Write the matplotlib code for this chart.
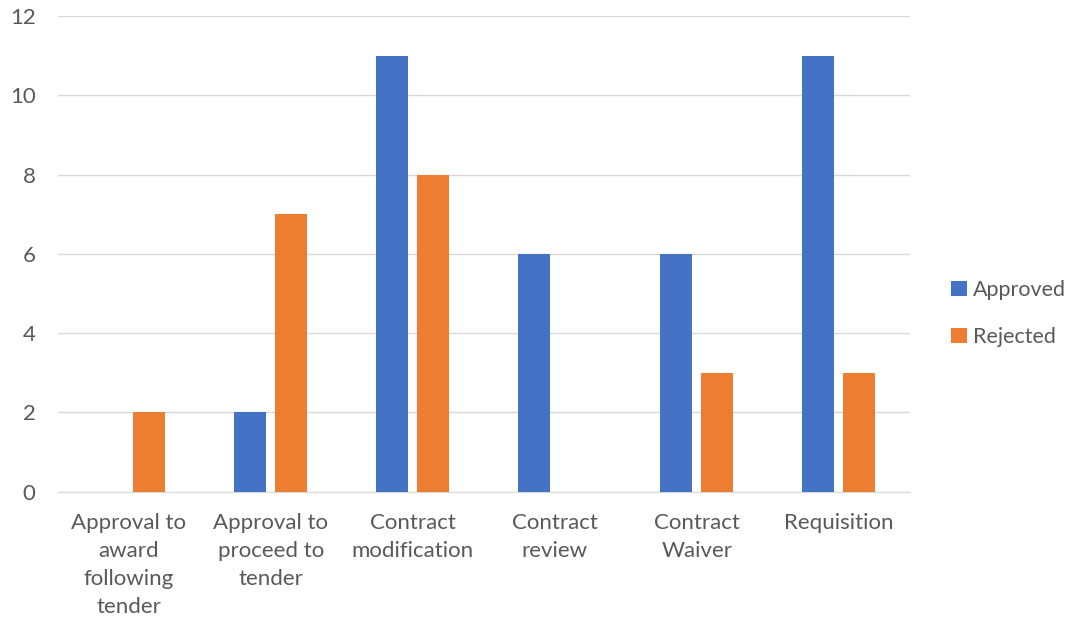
import matplotlib
matplotlib.use("Agg")
import matplotlib.pyplot as plt
import numpy as np

categories = ["Approval to\naward\nfollowing\ntender", "Approval to\nproceed to\ntender",
              "Contract\nmodification", "Contract\nreview", "Contract\nWaiver", "Requisition"]
approved = [0, 2, 11, 6, 6, 11]
rejected = [2, 7, 8, 0, 3, 3]
yticks = [0, 2, 4, 6, 8, 10, 12]

plt.rcParams['font.family'] = ['Lato', 'DejaVu Sans']
fig = plt.figure(figsize=(10.69, 6.17), dpi=100)
ax = fig.add_axes([0.054, 0.203, 0.797, 0.771])

x = np.arange(len(categories))
w = 0.225
ax.bar(x - 0.145, approved, width=w, color="#4472C4", label="Approved", zorder=3)
ax.bar(x + 0.145, rejected, width=w, color="#ED7D31", label="Rejected", zorder=3)

ax.set_xlim(-0.5, len(categories) - 0.5)
ax.set_ylim(0, 12)
ax.set_yticks(yticks)
ax.yaxis.grid(True, color="#D9D9D9", linewidth=1, zorder=0)
for s in ["top", "right", "left"]:
    ax.spines[s].set_visible(False)
ax.spines["bottom"].set_color("#D9D9D9")
ax.tick_params(axis="both", length=0, labelsize=16, colors="#595959")
ax.tick_params(axis="y", pad=16)
ax.tick_params(axis="x", pad=15)
ax.set_xticks(x)
ax.set_xticklabels(categories, linespacing=1.5)

leg = ax.legend(loc="center left", bbox_to_anchor=(1.049, 0.374), frameon=False,
                fontsize=15.5, handlelength=0.7, handleheight=0.7, labelspacing=1.25,
                handletextpad=0.3, borderpad=0, borderaxespad=0)
for t in leg.get_texts():
    t.set_color("#595959")

fig.savefig("out.png", dpi=100)
